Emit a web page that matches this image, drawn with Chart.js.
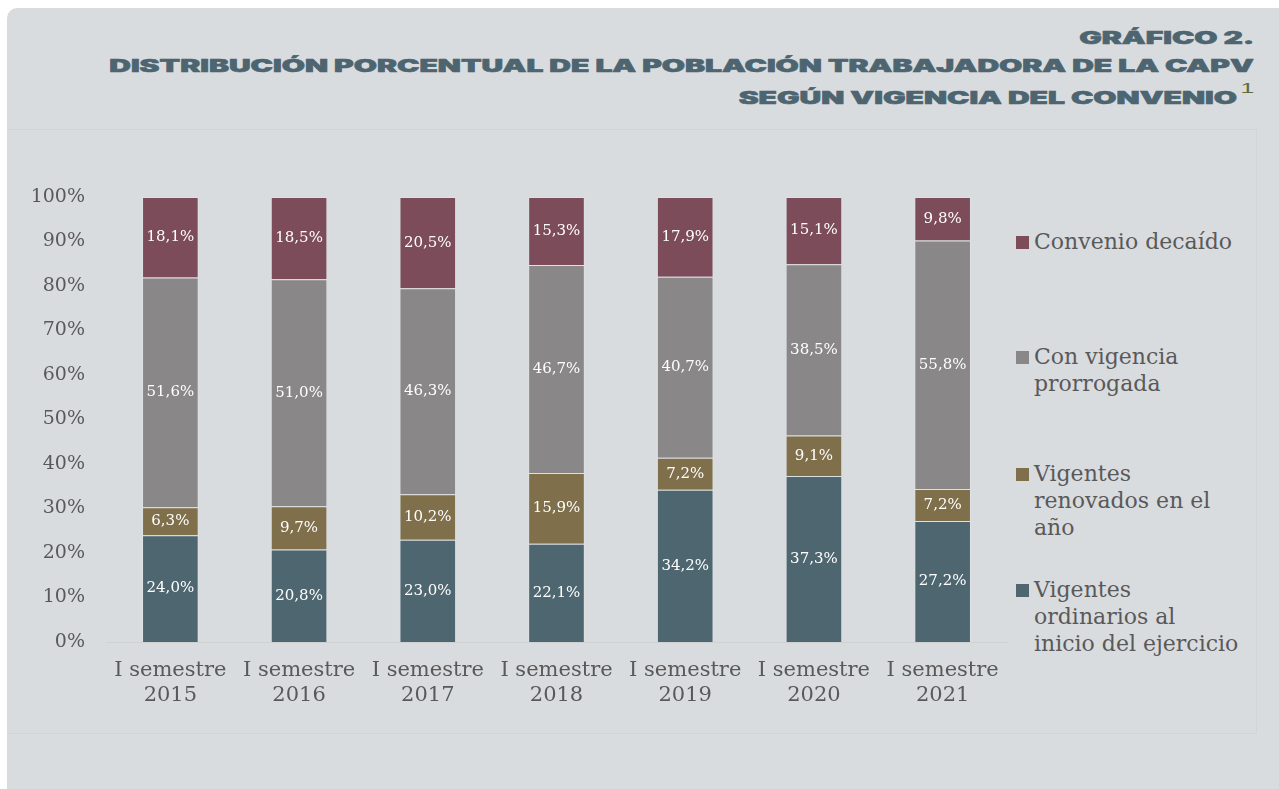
<!DOCTYPE html>
<html>
<head>
<meta charset="utf-8">
<script src="https://cdn.jsdelivr.net/npm/chart.js@4"></script>
<style>
  html, body { margin: 0; padding: 0; background: #ffffff; }
  body { width: 1279px; height: 789px; position: relative; overflow: hidden; font-family: "DejaVu Serif", serif; }
  #fondo { position: absolute; left: 7px; top: 8px; width: 1290px; height: 800px; background: #d9dcdf; border-top-left-radius: 10px; }
  #panel { position: absolute; left: 7px; top: 129px; width: 1249px; height: 603px; border: 1px solid #d3d4d5; border-left: none; }
  .titulo { position: absolute; right: 25px; font-family: "Inter", "Lato", sans-serif; font-weight: 900; font-size: 17px; color: #4d6570; -webkit-text-stroke: 0.6px #4d6570; white-space: nowrap; transform-origin: right center; line-height: 1; }
  .titulo sup { font-family: "Liberation Sans", sans-serif; font-weight: normal; -webkit-text-stroke: 0; font-size: 14px; color: #5d6b3a; position: relative; top: -9px; margin-left: 2px; vertical-align: top; }
  #grafico { position: absolute; left: 0; top: 150px; }
  #leyenda { position: absolute; left: 1016px; top: 0; }
  .item { position: absolute; left: 0; width: 262px; font-size: 22px; color: #595959; line-height: 27px; white-space: nowrap; }
  .caja { position: absolute; left: 0; top: 8px; width: 13px; height: 13px; }
  .texto { margin-left: 18px; }
</style>
</head>
<body>
<div id="fondo"></div>
<div id="panel"></div>
<div class="titulo" id="t1" style="top:30px">GRÁFICO 2.</div>
<div class="titulo" id="t2" style="top:58px">DISTRIBUCIÓN PORCENTUAL DE LA POBLACIÓN TRABAJADORA DE LA CAPV</div>
<div class="titulo" id="t3" style="top:90px">SEGÚN VIGENCIA DEL CONVENIO<sup>1</sup></div>
<canvas id="grafico" width="1010" height="570"></canvas>
<div id="leyenda"></div>
<script>
// Datos (porcentajes por semestre)
const categorias = ['2015', '2016', '2017', '2018', '2019', '2020', '2021'];
const ordinarios = [24.0, 20.8, 23.0, 22.1, 34.2, 37.3, 27.2];
const renovados = [6.3, 9.7, 10.2, 15.9, 7.2, 9.1, 7.2];
const prorrogada = [51.6, 51.0, 46.3, 46.7, 40.7, 38.5, 55.8];
const decaido = [18.1, 18.5, 20.5, 15.3, 17.9, 15.1, 9.8];
const ticksY = [0, 10, 20, 30, 40, 50, 60, 70, 80, 90, 100];

const series = [
  { nombre: ['Vigentes', 'ordinarios al', 'inicio del ejercicio'], datos: ordinarios, color: '#4e6670', y: 576 },
  { nombre: ['Vigentes', 'renovados en el', 'año'], datos: renovados, color: '#7f6f4b', y: 460 },
  { nombre: ['Con vigencia', 'prorrogada'], datos: prorrogada, color: '#898787', y: 343 },
  { nombre: ['Convenio decaído'], datos: decaido, color: '#7c4c5a', y: 228 }
];

// titulo: ensanchar la fuente para imitar la tipografia original
const t2 = document.getElementById('t2');
const escala = 1145 / t2.offsetWidth;
['t1', 't2', 't3'].forEach(id => {
  document.getElementById(id).style.transform = 'scaleX(' + escala + ')';
});

// leyenda a mano (texto en varias lineas)
const leyenda = document.getElementById('leyenda');
series.forEach(s => {
  const div = document.createElement('div');
  div.className = 'item';
  div.style.top = s.y + 'px';
  div.innerHTML = '<span class="caja" style="background:' + s.color + '"></span><div class="texto">' + s.nombre.join('<br>') + '</div>';
  leyenda.appendChild(div);
});

const fmt = v => v.toFixed(1).replace('.', ',') + '%';

// etiquetas blancas centradas en cada segmento
const etiquetas = {
  id: 'etiquetas',
  afterDatasetsDraw(chart) {
    const ctx = chart.ctx;
    ctx.save();
    ctx.fillStyle = '#ffffff';
    ctx.font = '15px "DejaVu Serif"';
    ctx.textAlign = 'center';
    ctx.textBaseline = 'middle';
    chart.data.datasets.forEach((ds, i) => {
      chart.getDatasetMeta(i).data.forEach((bar, j) => {
        const p = bar.getProps(['x', 'y', 'base']);
        ctx.fillText(fmt(ds.data[j]), p.x, (p.y + p.base) / 2);
      });
    });
    ctx.restore();
  }
};

new Chart(document.getElementById('grafico'), {
  type: 'bar',
  data: {
    labels: categorias.map(a => ['I semestre', a]),
    datasets: series.map(s => ({
      label: s.nombre.join(' '),
      data: s.datos,
      backgroundColor: s.color,
      borderColor: 'rgba(255,255,255,0.15)',
      borderWidth: 1,
      barPercentage: 0.44,
      categoryPercentage: 1
    }))
  },
  options: {
    responsive: false,
    animation: false,
    layout: { padding: { left: 0, right: 3, top: 47, bottom: 0 } },
    plugins: { legend: { display: false }, tooltip: { enabled: false } },
    scales: {
      x: {
        stacked: true,
        afterFit: s => { s.height = 78; },
        grid: { display: false },
        border: { color: '#d0d1d2', width: 1 },
        ticks: { color: '#595959', font: { family: 'DejaVu Serif', size: 21, lineHeight: 1.2 }, padding: 8, maxRotation: 0 }
      },
      y: {
        stacked: true,
        min: 0,
        max: 100,
        afterFit: s => { s.width = 106; },
        afterBuildTicks: s => { s.ticks = ticksY.map(v => ({ value: v })); },
        grid: { display: false },
        border: { display: false },
        ticks: { color: '#595959', font: { family: 'DejaVu Serif', size: 19 }, padding: 13, callback: v => v + '%' }
      }
    }
  },
  plugins: [etiquetas]
});
</script>
</body>
</html>
